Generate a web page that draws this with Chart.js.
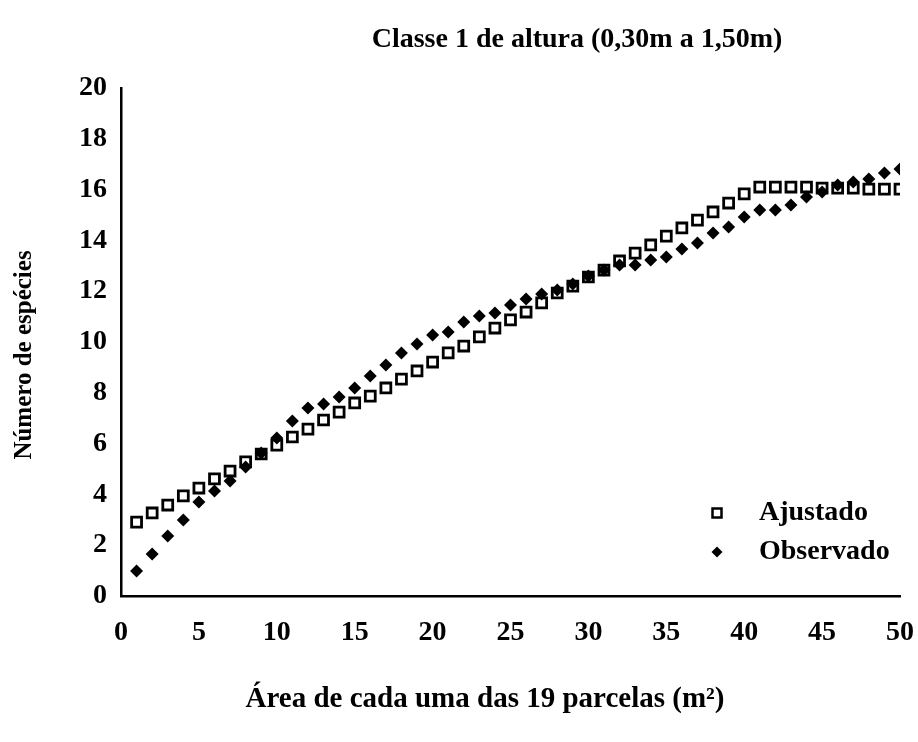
<!DOCTYPE html>
<html>
<head>
<meta charset="utf-8">
<script src="https://cdn.jsdelivr.net/npm/chart.js"></script>
<style>
  body { margin: 0; background: #fff; }
  canvas { display: block; }
</style>
</head>
<body>
<canvas id="speciesChart" width="918" height="742"></canvas>
<script>
const areas = [1, 2, 3, 4, 5, 6, 7, 8, 9, 10, 11, 12, 13, 14, 15, 16, 17, 18, 19, 20,
  21, 22, 23, 24, 25, 26, 27, 28, 29, 30, 31, 32, 33, 34, 35, 36, 37, 38, 39, 40,
  41, 42, 43, 44, 45, 46, 47, 48, 49, 50];

const ajustado = [2.91, 3.27, 3.58, 3.94, 4.25, 4.61, 4.92, 5.28, 5.59, 5.94,
  6.26, 6.57, 6.93, 7.24, 7.60, 7.87, 8.19, 8.54, 8.86, 9.21,
  9.57, 9.84, 10.20, 10.55, 10.87, 11.18, 11.54, 11.93, 12.20, 12.56,
  12.83, 13.19, 13.50, 13.82, 14.17, 14.49, 14.80, 15.12, 15.47, 15.83,
  16.10, 16.10, 16.10, 16.10, 16.06, 16.06, 16.06, 16.02, 16.02, 16.02];

const observado = [0.98, 1.65, 2.36, 2.99, 3.70, 4.13, 4.53, 5.08, 5.63, 6.22,
  6.89, 7.40, 7.56, 7.83, 8.19, 8.66, 9.09, 9.57, 9.92, 10.28,
  10.39, 10.79, 11.02, 11.14, 11.46, 11.69, 11.89, 12.05, 12.28, 12.60,
  12.83, 13.03, 13.03, 13.23, 13.35, 13.66, 13.90, 14.29, 14.53, 14.92,
  15.20, 15.20, 15.39, 15.71, 15.91, 16.18, 16.30, 16.42, 16.65, 16.81];

const xTicks = [0, 5, 10, 15, 20, 25, 30, 35, 40, 45, 50];
const yTicks = [0, 2, 4, 6, 8, 10, 12, 14, 16, 18, 20];

const chartTitle = 'Classe 1 de altura (0,30m a 1,50m)';
const xLabel = 'Área de cada uma das 19 parcelas (m²)';
const yLabel = 'Número de espécies';

const serif = '"Liberation Serif", "Times New Roman", serif';
const tickFont = { family: serif, size: 28, weight: 'bold' };

function toPoints(values) {
  return values.map((v, i) => ({ x: areas[i], y: v }));
}

// titles and legend drawn on the canvas
const textPlugin = {
  id: 'textPlugin',
  afterDraw(chart) {
    const ctx = chart.ctx;
    ctx.save();
    ctx.fillStyle = '#000';
    ctx.textAlign = 'center';
    ctx.textBaseline = 'middle';
    ctx.font = 'bold 28px ' + serif;
    ctx.fillText(chartTitle, 577, 40);
    ctx.font = 'bold 29px ' + serif;
    ctx.fillText(xLabel, 485, 700);

    ctx.save();
    ctx.translate(25, 355);
    ctx.rotate(-Math.PI / 2);
    ctx.font = 'bold 25px ' + serif;
    ctx.fillText(yLabel, 0, 0);
    ctx.restore();

    // legend
    ctx.font = 'bold 28px ' + serif;
    ctx.textAlign = 'left';
    const rows = [513, 552];
    chart.data.datasets.slice().sort((a, b) => a.legendIndex - b.legendIndex).forEach((ds, i) => {
      const y = rows[i];
      const x = 717;
      ctx.lineWidth = 2.5;
      ctx.strokeStyle = '#000';
      if (ds.pointStyle === 'rect') {
        ctx.fillStyle = '#fff';
        ctx.fillRect(x - 4.5, y - 4.5, 9, 9);
        ctx.strokeRect(x - 4.5, y - 4.5, 9, 9);
      } else {
        ctx.fillStyle = '#000';
        ctx.beginPath();
        ctx.moveTo(x, y - 5.5);
        ctx.lineTo(x + 5.5, y);
        ctx.lineTo(x, y + 5.5);
        ctx.lineTo(x - 5.5, y);
        ctx.closePath();
        ctx.fill();
      }
      ctx.fillStyle = '#000';
      ctx.fillText(ds.label, 759, y);
    });
    ctx.restore();
  }
};

const ctx = document.getElementById('speciesChart').getContext('2d');
const speciesChart = new Chart(ctx, {
  type: 'scatter',
  data: {
    datasets: [{
      label: 'Observado',
      legendIndex: 1,
      data: toPoints(observado),
      pointStyle: 'rectRot',
      radius: 6.5,
      backgroundColor: '#000',
      borderColor: '#000',
      borderWidth: 0
    }, {
      label: 'Ajustado',
      legendIndex: 0,
      data: toPoints(ajustado),
      pointStyle: 'rect',
      radius: 7,
      backgroundColor: '#fff',
      borderColor: '#000',
      borderWidth: 2.8
    }]
  },
  options: {
    responsive: false,
    animation: false,
    devicePixelRatio: 1,
    layout: { padding: { top: 88, right: 18, left: 0, bottom: 0 } },
    plugins: {
      legend: { display: false },
      tooltip: { enabled: false }
    },
    scales: {
      x: {
        type: 'linear',
        min: 0,
        max: 50,
        afterBuildTicks: axis => { axis.ticks = xTicks.map(v => ({ value: v })); },
        afterFit: axis => {
          axis.height = 146;
          axis.paddingLeft = 0;
          axis.paddingRight = 0;
        },
        grid: { display: false, drawTicks: false },
        border: { color: '#000', width: 2.5 },
        ticks: { color: '#000', font: tickFont, padding: 20, maxRotation: 0 }
      },
      y: {
        min: 0,
        max: 20,
        afterBuildTicks: axis => { axis.ticks = yTicks.map(v => ({ value: v })); },
        afterFit: axis => {
          axis.width = 121;
          axis.paddingTop = 0;
          axis.paddingBottom = 0;
        },
        grid: { display: false, drawTicks: false },
        border: { color: '#000', width: 2.5 },
        ticks: { color: '#000', font: tickFont, padding: 14 }
      }
    }
  },
  plugins: [textPlugin]
});
</script>
</body>
</html>
